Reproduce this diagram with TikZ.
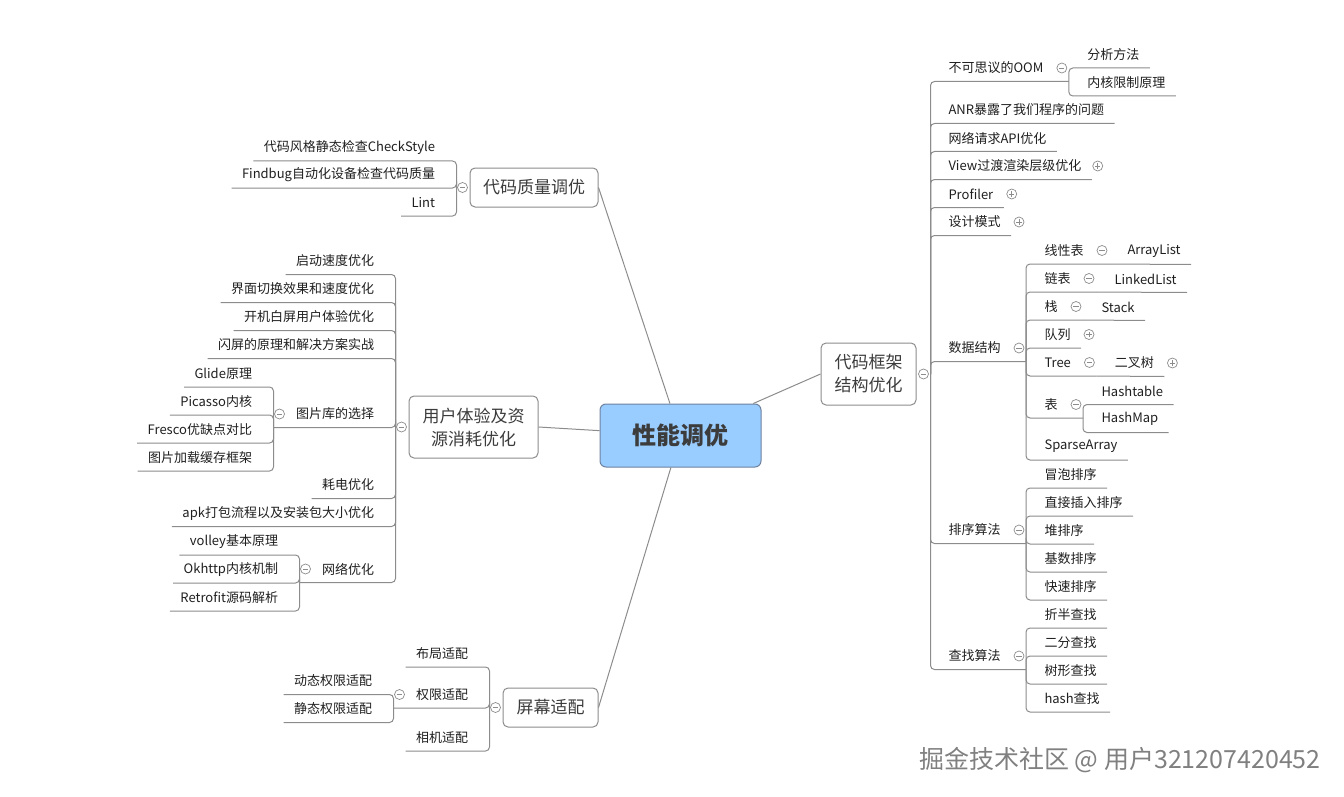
\documentclass[tikz,border=0pt]{standalone}
\usepackage{fontspec}
\setmainfont{Noto Sans CJK SC}
\usetikzlibrary{calc,positioning}

\definecolor{rootblue}{RGB}{153,204,255}
\definecolor{rootline}{RGB}{110,130,160}
\definecolor{linegray}{RGB}{140,140,140}
\definecolor{textgray}{RGB}{60,60,60}

\begin{document}
\begin{tikzpicture}[x=1pt, y=-1pt, line width=1pt,
  root/.style={draw=rootline, fill=rootblue, rounded corners=6pt, minimum width=161pt, minimum height=63pt, font=\fontsize{24}{28}\selectfont\bfseries, text=textgray},
  topic/.style={draw=linegray, fill=white, rounded corners=5pt, align=center, inner sep=0pt, font=\fontsize{17}{23}\selectfont, text=textgray},
  leaf/.style={inner xsep=10pt, inner ysep=0pt, minimum height=26pt, font=\fontsize{13}{15}\selectfont, text=black!88},
  link/.style={draw=linegray, rounded corners=4pt},
  fold/.style={circle, draw=linegray, fill=white, line width=0.7pt, minimum size=10pt, inner sep=0pt,
    path picture={\draw[linegray, line width=0.7pt] ([xshift=-2.6pt]path picture bounding box.center) -- ([xshift=2.6pt]path picture bounding box.center);}},
  unfold/.style={circle, draw=linegray, fill=white, line width=0.7pt, minimum size=10pt, inner sep=0pt,
    path picture={\draw[linegray, line width=0.7pt] ([xshift=-2.6pt]path picture bounding box.center) -- ([xshift=2.6pt]path picture bounding box.center)
      ([yshift=-2.6pt]path picture bounding box.center) -- ([yshift=2.6pt]path picture bounding box.center);}}]

  \useasboundingbox (0,0) rectangle (1344,797);

  % centre and the four topics
  \node[root] (root) at (680.5,435.5) {性能调优};
  \node[topic, minimum width=128pt, minimum height=39pt] (qual) at (534,187.5) {代码质量调优};
  \node[topic, minimum width=129pt, minimum height=62pt] (ux) at (473.5,427) {用户体验及资\\源消耗优化};
  \node[topic, minimum width=95pt, minimum height=39pt] (scr) at (550.5,707.5) {屏幕适配};
  \node[topic, minimum width=95pt, minimum height=62pt] (arch) at (868.5,374) {代码框架\\结构优化};
  \draw[link] (qual.east) -- (root);
  \draw[link] (ux.east) -- (root);
  \draw[link] (scr.east) -- (root);
  \draw[link] (arch.west) -- (root);

  % ---- 代码框架结构优化 ----
  \coordinate (arch-j) at ($(arch.east)+(14,0)$);
  \node[leaf, anchor=west] (oom) at (938,68) {不可思议的OOM};
  \node[leaf, anchor=west] (anr) at (938,110) {ANR暴露了我们程序的问题};
  \node[leaf, anchor=west] (api) at (938,138) {网络请求API优化};
  \node[leaf, anchor=west] (view) at (938,166) {View过渡渲染层级优化};
  \node[leaf, anchor=west] (prof) at (938,194) {Profiler};
  \node[leaf, anchor=west] (dp) at (938,222) {设计模式};
  \node[leaf, anchor=west] (ds) at (938,348) {数据结构};
  \node[leaf, anchor=west] (sort) at (938,530) {排序算法};
  \node[leaf, anchor=west] (find) at (938,656) {查找算法};
  \coordinate (oom-j) at ($(oom.south east)+(15,0)$);
  \coordinate (ds-j) at ($(ds.south east)+(15,0)$);
  \coordinate (sort-j) at ($(sort.south east)+(15,0)$);
  \coordinate (find-j) at ($(find.south east)+(15,0)$);
  \draw[link] (arch-j) |- (oom-j);
  \draw[link] (arch-j) |- (anr.south east);
  \draw[link] (arch-j) |- (api.south east);
  \draw[link] (arch-j) |- (view.south east);
  \draw[link] (arch-j) |- (prof.south east);
  \draw[link] (arch-j) |- (dp.south east);
  \draw[link] (arch-j) |- (ds-j);
  \draw[link] (arch-j) |- (sort-j);
  \draw[link] (arch-j) |- (find-j);

  \node[leaf, anchor=west] (oom-a) at ($(oom-j)+(8,-27)$) {分析方法};
  \node[leaf, anchor=west] (oom-b) at ($(oom-j)+(8,1)$) {内核限制原理};
  \draw[link] (oom-j) |- (oom-a.south east);
  \draw[link] (oom-j) |- (oom-b.south east);

  % 数据结构
  \node[leaf, anchor=west] (lin) at ($(ds-j)+(8,-111)$) {线性表};
  \node[leaf, anchor=west] (lnk) at ($(ds-j)+(8,-83)$) {链表};
  \node[leaf, anchor=west] (stk) at ($(ds-j)+(8,-55)$) {栈};
  \node[leaf, anchor=west] (que) at ($(ds-j)+(8,-27)$) {队列};
  \node[leaf, anchor=west] (tree) at ($(ds-j)+(8,1)$) {Tree};
  \node[leaf, anchor=west] (tab) at ($(ds-j)+(8,43)$) {表};
  \node[leaf, anchor=west] (sparse) at ($(ds-j)+(8,85)$) {SparseArray};
  \coordinate (lin-j) at ($(lin.south east)+(15,0)$);
  \coordinate (lnk-j) at ($(lnk.south east)+(15,0)$);
  \coordinate (stk-j) at ($(stk.south east)+(15,0)$);
  \coordinate (tree-j) at ($(tree.south east)+(15,0)$);
  \coordinate (tab-j) at ($(tab.south east)+(15,0)$);
  \draw[link] (ds-j) |- (lin-j);
  \draw[link] (ds-j) |- (lnk-j);
  \draw[link] (ds-j) |- (stk-j);
  \draw[link] (ds-j) |- (que.south east);
  \draw[link] (ds-j) |- (tree-j);
  \draw[link] (ds-j) |- (tab-j);
  \draw[link] (ds-j) |- (sparse.south east);

  \node[leaf, anchor=west] (arr) at ($(lin-j)+(8,-13)$) {ArrayList};
  \node[leaf, anchor=west] (llist) at ($(lnk-j)+(8,-13)$) {LinkedList};
  \node[leaf, anchor=west] (stack) at ($(stk-j)+(8,-13)$) {Stack};
  \node[leaf, anchor=west] (btree) at ($(tree-j)+(8,-13)$) {二叉树};
  \node[leaf, anchor=west] (htab) at ($(tab-j)+(8,-27)$) {Hashtable};
  \node[leaf, anchor=west] (hmap) at ($(tab-j)+(8,1)$) {HashMap};
  \draw[link] (lin-j) -- (arr.south east);
  \draw[link] (lnk-j) -- (llist.south east);
  \draw[link] (stk-j) -- (stack.south east);
  \draw[link] (tree-j) -- (btree.south east);
  \draw[link] (tab-j) |- (htab.south east);
  \draw[link] (tab-j) |- (hmap.south east);

  % 排序算法
  \node[leaf, anchor=west] (bub) at ($(sort-j)+(8,-69)$) {冒泡排序};
  \node[leaf, anchor=west] (ins) at ($(sort-j)+(8,-41)$) {直接插入排序};
  \node[leaf, anchor=west] (heap) at ($(sort-j)+(8,-13)$) {堆排序};
  \node[leaf, anchor=west] (radix) at ($(sort-j)+(8,15)$) {基数排序};
  \node[leaf, anchor=west] (quick) at ($(sort-j)+(8,43)$) {快速排序};
  \draw[link] (sort-j) |- (bub.south east);
  \draw[link] (sort-j) |- (ins.south east);
  \draw[link] (sort-j) |- (heap.south east);
  \draw[link] (sort-j) |- (radix.south east);
  \draw[link] (sort-j) |- (quick.south east);

  % 查找算法
  \node[leaf, anchor=west] (half) at ($(find-j)+(8,-55)$) {折半查找};
  \node[leaf, anchor=west] (bin) at ($(find-j)+(8,-27)$) {二分查找};
  \node[leaf, anchor=west] (tsrch) at ($(find-j)+(8,1)$) {树形查找};
  \node[leaf, anchor=west] (hsrch) at ($(find-j)+(8,29)$) {hash查找};
  \draw[link] (find-j) |- (half.south east);
  \draw[link] (find-j) |- (bin.south east);
  \draw[link] (find-j) |- (tsrch.south east);
  \draw[link] (find-j) |- (hsrch.south east);

  % ---- 代码质量调优 ----
  \coordinate (qual-j) at ($(qual.west)+(-13,0)$);
  \node[leaf, anchor=east] (chk) at ($(qual-j)+(-11,-40)$) {代码风格静态检查CheckStyle};
  \node[leaf, anchor=east] (fbug) at ($(qual-j)+(-11,-13)$) {Findbug自动化设备检查代码质量};
  \node[leaf, anchor=east] (lint) at ($(qual-j)+(-11,15)$) {Lint};
  \draw[link] (qual-j) |- (chk.south west);
  \draw[link] (qual-j) |- (fbug.south west);
  \draw[link] (qual-j) |- (lint.south west);

  % ---- 用户体验及资源消耗优化 ----
  \coordinate (ux-j) at ($(ux.west)+(-13,0)$);
  \node[leaf, anchor=east] (boot) at ($(ux-j)+(-11,-166)$) {启动速度优化};
  \node[leaf, anchor=east] (swap) at ($(ux-j)+(-11,-138)$) {界面切换效果和速度优化};
  \node[leaf, anchor=east] (white) at ($(ux-j)+(-11,-110)$) {开机白屏用户体验优化};
  \node[leaf, anchor=east] (splash) at ($(ux-j)+(-11,-82)$) {闪屏的原理和解决方案实战};
  \node[leaf, anchor=east] (pic) at ($(ux-j)+(-11,-13)$) {图片库的选择};
  \node[leaf, anchor=east] (power) at ($(ux-j)+(-11,58)$) {耗电优化};
  \node[leaf, anchor=east] (apk) at ($(ux-j)+(-11,86)$) {apk打包流程以及安装包大小优化};
  \node[leaf, anchor=east] (net) at ($(ux-j)+(-11,142)$) {网络优化};
  \coordinate (pic-j) at ($(pic.south west)+(-12,0)$);
  \coordinate (net-j) at ($(net.south west)+(-12,0)$);
  \draw[link] (ux-j) |- (boot.south west);
  \draw[link] (ux-j) |- (swap.south west);
  \draw[link] (ux-j) |- (white.south west);
  \draw[link] (ux-j) |- (splash.south west);
  \draw[link] (ux-j) |- (pic-j);
  \draw[link] (ux-j) |- (power.south west);
  \draw[link] (ux-j) |- (apk.south west);
  \draw[link] (ux-j) |- (net-j);

  \node[leaf, anchor=east] (glide) at ($(pic-j)+(-11,-54)$) {Glide原理};
  \node[leaf, anchor=east] (picasso) at ($(pic-j)+(-11,-26)$) {Picasso内核};
  \node[leaf, anchor=east] (fresco) at ($(pic-j)+(-11,2)$) {Fresco优缺点对比};
  \node[leaf, anchor=east] (cache) at ($(pic-j)+(-11,30)$) {图片加载缓存框架};
  \draw[link] (pic-j) |- (glide.south west);
  \draw[link] (pic-j) |- (picasso.south west);
  \draw[link] (pic-j) |- (fresco.south west);
  \draw[link] (pic-j) |- (cache.south west);

  \node[leaf, anchor=east] (volley) at ($(net-j)+(-11,-41)$) {volley基本原理};
  \node[leaf, anchor=east] (okhttp) at ($(net-j)+(-11,-13)$) {Okhttp内核机制};
  \node[leaf, anchor=east] (retro) at ($(net-j)+(-11,15)$) {Retrofit源码解析};
  \draw[link] (net-j) |- (volley.south west);
  \draw[link] (net-j) |- (okhttp.south west);
  \draw[link] (net-j) |- (retro.south west);

  % ---- 屏幕适配 ----
  \coordinate (scr-j) at ($(scr.west)+(-13,0)$);
  \node[leaf, anchor=east] (layout) at ($(scr-j)+(-11,-54)$) {布局适配};
  \node[leaf, anchor=east] (perm) at ($(scr-j)+(-11,-13)$) {权限适配};
  \node[leaf, anchor=east] (cam) at ($(scr-j)+(-11,30)$) {相机适配};
  \coordinate (perm-j) at ($(perm.south west)+(-12,0)$);
  \draw[link] (scr-j) |- (layout.south west);
  \draw[link] (scr-j) |- (perm-j);
  \draw[link] (scr-j) |- (cam.south west);
  \node[leaf, anchor=east] (dyn) at ($(perm-j)+(-11,-27)$) {动态权限适配};
  \node[leaf, anchor=east] (stat) at ($(perm-j)+(-11,1)$) {静态权限适配};
  \draw[link] (perm-j) |- (dyn.south west);
  \draw[link] (perm-j) |- (stat.south west);

  % fold markers
  \node[fold] (arch-f) at ($(arch.east)+(7,0)$) {};
  \node[fold] (qual-f) at ($(qual.west)+(-7,0)$) {};
  \node[fold] (ux-f) at ($(ux.west)+(-7,0)$) {};
  \node[fold] (scr-f) at ($(scr.west)+(-7,0)$) {};
  \node[fold] (oom-f) at ($(oom.east)+(8,0)$) {};
  \node[fold] (ds-f) at ($(ds.east)+(8,0)$) {};
  \node[fold] (sort-f) at ($(sort.east)+(8,0)$) {};
  \node[fold] (find-f) at ($(find.east)+(8,0)$) {};
  \node[fold] (lin-f) at ($(lin.east)+(8,0)$) {};
  \node[fold] (lnk-f) at ($(lnk.east)+(8,0)$) {};
  \node[fold] (stk-f) at ($(stk.east)+(8,0)$) {};
  \node[fold] (tree-f) at ($(tree.east)+(8,0)$) {};
  \node[fold] (tab-f) at ($(tab.east)+(8,0)$) {};
  \node[fold] (pic-f) at ($(pic.west)+(-6,0)$) {};
  \node[fold] (net-f) at ($(net.west)+(-6,0)$) {};
  \node[fold] (perm-f) at ($(perm.west)+(-6,0)$) {};
  \node[unfold] (view-u) at ($(view.east)+(6,0)$) {};
  \node[unfold] (prof-u) at ($(prof.east)+(8,0)$) {};
  \node[unfold] (dp-u) at ($(dp.east)+(8,0)$) {};
  \node[unfold] (que-u) at ($(que.east)+(8,0)$) {};
  \node[unfold] (btree-u) at ($(btree.east)+(8,0)$) {};

  % watermark
  \node[font=\fontsize{25}{29}\selectfont, text=black!50] (mark) at (1120,760) {掘金技术社区 @ 用户321207420452};

\end{tikzpicture}
\end{document}
